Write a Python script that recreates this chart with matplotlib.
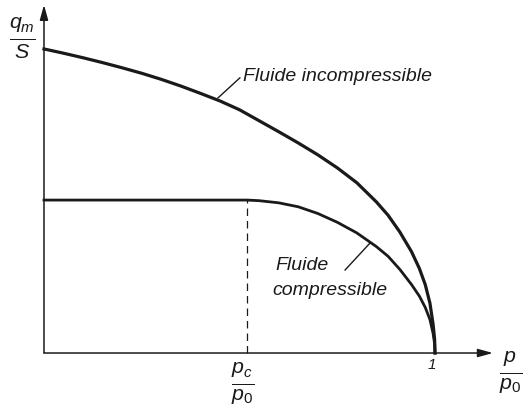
import matplotlib
matplotlib.use("Agg")
import matplotlib.pyplot as plt

plt.rcParams['font.family'] = ['Liberation Sans', 'DejaVu Sans']
plt.rcParams['mathtext.fontset'] = 'custom'
plt.rcParams['mathtext.it'] = 'Liberation Sans:italic'
plt.rcParams['mathtext.rm'] = 'Liberation Sans'

# p/p0 -> qm/S, incompressible flow
p_incomp = [0.0, 0.05, 0.10, 0.15, 0.20, 0.25, 0.30, 0.35, 0.40, 0.45,
            0.50, 0.55, 0.60, 0.65, 0.70, 0.75, 0.80, 0.85, 0.88, 0.91,
            0.94, 0.96, 0.975, 0.987, 0.995, 0.999, 1.0]
q_incomp = [1.0, 0.986, 0.971, 0.955, 0.938, 0.920, 0.900, 0.878, 0.854, 0.829,
            0.800, 0.764, 0.728, 0.691, 0.652, 0.609, 0.560, 0.497, 0.453, 0.398,
            0.333, 0.278, 0.225, 0.164, 0.095, 0.045, 0.0]

# compressible flow: choked below the critical ratio
p_comp = [0.0, 0.52, 0.55, 0.60, 0.65, 0.70, 0.75, 0.80, 0.85, 0.88,
          0.91, 0.94, 0.96, 0.975, 0.987, 0.995, 0.999, 1.0]
q_comp = [0.503, 0.503, 0.501, 0.494, 0.481, 0.459, 0.430, 0.395, 0.350, 0.318,
          0.275, 0.225, 0.187, 0.150, 0.110, 0.065, 0.030, 0.0]

p_crit = 0.52
q_crit = 0.503

ink = '#1a1a1a'

fig = plt.figure(figsize=(5.23, 4.12), dpi=100)
ax = fig.add_axes([0, 0, 1, 1])
ax.set_xlim(-0.1125, 1.225)
ax.set_ylim(-0.194, 1.161)
ax.axis('off')

# axes with arrow heads
ax.annotate('', xy=(0, 1.145), xytext=(0, 0),
            arrowprops=dict(arrowstyle='-|>,head_length=0.9,head_width=0.25',
                            color=ink, lw=1.1, shrinkA=0, shrinkB=0))
ax.annotate('', xy=(1.148, 0), xytext=(0, 0),
            arrowprops=dict(arrowstyle='-|>,head_length=0.9,head_width=0.25',
                            color=ink, lw=1.1, shrinkA=0, shrinkB=0))

ax.plot(p_incomp, q_incomp, color=ink, lw=2.3, solid_joinstyle='round')
ax.plot(p_comp, q_comp, color=ink, lw=2.0, solid_joinstyle='round')
ax.plot([p_crit, p_crit], [0, q_crit], color=ink, lw=0.9,
        linestyle=(0, (6, 4)))

# curve labels with leader lines
ax.plot([0.445, 0.501], [0.839, 0.905], color=ink, lw=1.0)
ax.text(0.509, 0.908, 'Fluide incompressible', fontsize=14, style='italic',
        color=ink, va='center', ha='left')
ax.plot([0.770, 0.834], [0.273, 0.362], color=ink, lw=1.0)
ax.text(0.591, 0.289, 'Fluide', fontsize=14, style='italic',
        color=ink, va='center', ha='left')
ax.text(0.583, 0.207, 'compressible', fontsize=14, style='italic',
        color=ink, va='center', ha='left')

# axis labels
ax.text(-0.056, 1.036, r'$\frac{q_m}{S}$', fontsize=22, color=ink,
        ha='center', va='center')
ax.text(1.194, -0.0625, r'$\frac{p}{p_{\mathit{0}}}$', fontsize=22, color=ink,
        ha='center', va='center')
ax.text(0.509, -0.099, r'$\frac{p_c}{p_{\mathit{0}}}$', fontsize=22, color=ink,
        ha='center', va='center')
ax.text(0.992, -0.039, '1', fontsize=11, style='italic', color=ink,
        ha='center', va='center')

fig.savefig('out.png', dpi=100)
